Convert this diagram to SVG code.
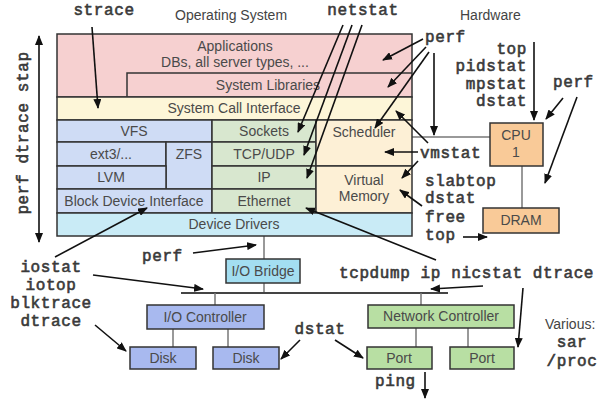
<svg xmlns="http://www.w3.org/2000/svg" width="600" height="400" viewBox="0 0 600 400">
<defs>
<marker id="ah" markerUnits="userSpaceOnUse" markerWidth="10" markerHeight="8" refX="9" refY="4" orient="auto">
<path d="M0,0 L10,4 L0,8 z" fill="#111"/>
</marker>
<marker id="ahs" markerUnits="userSpaceOnUse" markerWidth="10" markerHeight="8" refX="1" refY="4" orient="auto">
<path d="M10,0 L0,4 L10,8 z" fill="#111"/>
</marker>
<style>
.b{stroke:#333;stroke-width:1.5}
.lbl{font-family:"Liberation Sans",Arial,sans-serif;font-size:14px;fill:#4a4a4a;text-anchor:middle}
.hd{font-family:"Liberation Sans",Arial,sans-serif;font-size:14px;fill:#444}
.tool{font-family:"Liberation Mono","Courier New",monospace;font-size:16px;letter-spacing:0.6px;font-weight:normal;fill:#3a3a3a;stroke:#3a3a3a;stroke-width:0.6}
.ar{stroke:#111;stroke-width:1.6;fill:none;marker-end:url(#ah)}
.cn{stroke:#777;stroke-width:1.5;fill:none}
.pink{fill:#f6d0d0}.yel{fill:#fdf6d8}.blu{fill:#cfdcf5}.grn{fill:#d8e7cf}.crm{fill:#fdf0d6}.cya{fill:#c9ebf6}
.org{fill:#f9ca98}.brg{fill:#a3def1}.ioc{fill:#a8b9ef}.net{fill:#b8dfa3}
</style>
</defs>
<rect width="600" height="400" fill="#fff"/>
<text class="hd" x="175" y="20">Operating System</text>
<text class="hd" x="460" y="20">Hardware</text>

<g id="connectors">
<line class="cn" x1="412" y1="137" x2="490" y2="137"/>
<line class="cn" x1="522" y1="166" x2="522" y2="208"/>
<line class="cn" x1="264" y1="236" x2="264" y2="259"/>
<line class="cn" x1="264" y1="283" x2="264" y2="293"/>
<line x1="181" y1="293" x2="448" y2="293" stroke="#444" stroke-width="2.2"/>
<line class="cn" x1="215" y1="293" x2="215" y2="305"/>
<line class="cn" x1="421" y1="293" x2="421" y2="305"/>
<line class="cn" x1="173" y1="329" x2="173" y2="347"/>
<line class="cn" x1="228" y1="329" x2="228" y2="347"/>
<line class="cn" x1="416" y1="328" x2="416" y2="347"/>
<line class="cn" x1="468" y1="328" x2="468" y2="347"/>
</g>

<g id="applications"><rect class="b pink" x="57" y="34" width="355" height="63"/><text class="lbl" x="235" y="51">Applications</text><text class="lbl" x="235" y="67">DBs, all server types, ...</text></g>
<g id="system-libraries"><polyline points="127,97 127,73 412,73" fill="none" stroke="#333" stroke-width="1.5"/><text class="lbl" x="268" y="90">System Libraries</text></g>
<g id="syscall"><rect class="b yel" x="57" y="97" width="355" height="23"/><text class="lbl" x="234" y="113">System Call Interface</text></g>
<g id="vfs"><rect class="b blu" x="57" y="120" width="155" height="22"/><text class="lbl" x="134" y="136">VFS</text></g>
<g id="ext3"><rect class="b blu" x="57" y="142" width="109" height="24"/><text class="lbl" x="111" y="159">ext3/...</text></g>
<g id="zfs"><rect class="b blu" x="166" y="142" width="46" height="47"/><text class="lbl" x="189" y="159">ZFS</text></g>
<g id="lvm"><rect class="b blu" x="57" y="166" width="109" height="23"/><text class="lbl" x="111" y="182">LVM</text></g>
<g id="bdi"><rect class="b blu" x="57" y="189" width="155" height="24"/><text class="lbl" x="134" y="206">Block Device Interface</text></g>
<g id="sockets"><rect class="b grn" x="212" y="120" width="104" height="22"/><text class="lbl" x="264" y="136">Sockets</text></g>
<g id="tcpudp"><rect class="b grn" x="212" y="142" width="104" height="24"/><text class="lbl" x="264" y="159">TCP/UDP</text></g>
<g id="ip"><rect class="b grn" x="212" y="166" width="104" height="23"/><text class="lbl" x="264" y="182">IP</text></g>
<g id="ethernet"><rect class="b grn" x="212" y="189" width="104" height="24"/><text class="lbl" x="264" y="206">Ethernet</text></g>
<g id="scheduler"><rect class="b crm" x="316" y="120" width="96" height="46"/><text class="lbl" x="364" y="137">Scheduler</text></g>
<g id="vm"><rect class="b crm" x="316" y="166" width="96" height="47"/><text class="lbl" x="364" y="185">Virtual</text><text class="lbl" x="364" y="201">Memory</text></g>
<g id="drivers"><rect class="b cya" x="57" y="213" width="355" height="23"/><text class="lbl" x="234" y="229">Device Drivers</text></g>

<g id="cpu"><rect class="b org" x="490" y="123" width="53" height="43"/><text class="lbl" x="516" y="140">CPU</text><text class="lbl" x="516" y="157">1</text></g>
<g id="dram"><rect class="b org" x="483" y="208" width="76" height="25"/><text class="lbl" x="521" y="225">DRAM</text></g>
<g id="iobridge"><rect class="b brg" x="226" y="259" width="74" height="24"/><text class="lbl" x="263" y="276">I/O Bridge</text></g>
<g id="iocontroller"><rect class="b ioc" x="147" y="305" width="117" height="24"/><text class="lbl" x="205" y="322">I/O Controller</text></g>
<g id="disk1"><rect class="b ioc" x="130" y="347" width="66" height="22"/><text class="lbl" x="163" y="363">Disk</text></g>
<g id="disk2"><rect class="b ioc" x="213" y="347" width="66" height="22"/><text class="lbl" x="246" y="363">Disk</text></g>
<g id="netcontroller"><rect class="b net" x="368" y="305" width="146" height="23"/><text class="lbl" x="441" y="321">Network Controller</text></g>
<g id="port1"><rect class="b net" x="367" y="347" width="65" height="22"/><text class="lbl" x="399" y="363">Port</text></g>
<g id="port2"><rect class="b net" x="450" y="347" width="64" height="22"/><text class="lbl" x="482" y="363">Port</text></g>

<g id="tools">
<text class="tool" x="104" y="15" text-anchor="middle">strace</text>
<text class="tool" x="363" y="15" text-anchor="middle">netstat</text>
<text class="tool" x="425" y="42">perf</text>
<text class="tool" text-anchor="end" x="527" y="54">top</text>
<text class="tool" text-anchor="end" x="527" y="71">pidstat</text>
<text class="tool" text-anchor="end" x="527" y="89">mpstat</text>
<text class="tool" text-anchor="end" x="527" y="106">dstat</text>
<text class="tool" x="553" y="87">perf</text>
<text class="tool" x="420" y="158">vmstat</text>
<text class="tool" x="425" y="186">slabtop</text>
<text class="tool" x="425" y="203">dstat</text>
<text class="tool" x="425" y="222">free</text>
<text class="tool" x="425" y="240">top</text>
<text class="tool" x="142" y="261">perf</text>
<text class="tool" x="51" y="272" text-anchor="middle">iostat</text>
<text class="tool" x="51" y="290" text-anchor="middle">iotop</text>
<text class="tool" x="51" y="308" text-anchor="middle">blktrace</text>
<text class="tool" x="51" y="326" text-anchor="middle">dtrace</text>
<text class="tool" x="339" y="278">tcpdump ip nicstat dtrace</text>
<text class="tool" x="320" y="334" text-anchor="middle">dstat</text>
<text class="tool" x="375" y="386">ping</text>
<text class="hd" x="545" y="329">Various:</text>
<text class="tool" x="572" y="347" text-anchor="middle">sar</text>
<text class="tool" x="572" y="366" text-anchor="middle">/proc</text>
<text class="tool" transform="translate(28,133) rotate(-90)" text-anchor="middle">perf dtrace stap</text>
</g>

<g id="tool-arrows">
<line class="ar" x1="92" y1="27" x2="98" y2="108"/>
<line class="ar" x1="343" y1="25" x2="298" y2="132"/>
<line class="ar" x1="352" y1="25" x2="304" y2="155"/>
<line class="ar" x1="362" y1="25" x2="307" y2="178"/>
<line class="ar" x1="423" y1="39" x2="383" y2="60"/>
<line class="ar" x1="426" y1="47" x2="388" y2="87"/>
<line class="ar" x1="429" y1="52" x2="375" y2="128"/>
<line class="ar" x1="434" y1="53" x2="434" y2="135"/>
<line class="ar" x1="534" y1="42" x2="534" y2="120"/>
<line class="ar" x1="563" y1="98" x2="546" y2="119"/>
<line class="ar" x1="577" y1="97" x2="545" y2="183"/>
<line class="ar" x1="418" y1="152" x2="385" y2="152"/>
<line class="ar" x1="428" y1="143" x2="396" y2="111"/>
<line class="ar" x1="418" y1="161" x2="402" y2="178"/>
<line class="ar" x1="422" y1="206" x2="400" y2="190"/>
<line class="ar" x1="463" y1="237" x2="487" y2="237"/>
<line class="ar" x1="436" y1="260" x2="306" y2="208"/>
<line class="ar" x1="483" y1="286" x2="431" y2="289"/>
<line class="ar" x1="523" y1="288" x2="518" y2="347"/>
<line class="ar" x1="425" y1="372" x2="425" y2="398"/>
<line class="ar" x1="335" y1="340" x2="363" y2="358"/>
<line class="ar" x1="300" y1="340" x2="281" y2="359"/>
<line class="ar" x1="193" y1="253" x2="256" y2="245"/>
<line class="ar" x1="55" y1="257" x2="147" y2="208"/>
<line class="ar" x1="93" y1="275" x2="203" y2="289"/>
<line class="ar" x1="95" y1="325" x2="126" y2="351"/>
<line x1="39" y1="36" x2="39" y2="242" stroke="#111" stroke-width="1.6" marker-start="url(#ahs)" marker-end="url(#ah)"/>
</g>
</svg>
